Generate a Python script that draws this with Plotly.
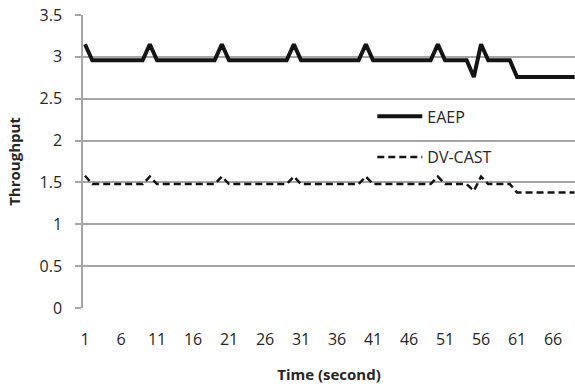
import plotly.graph_objects as go

time_s = list(range(1, 70))

eaep = [3.15, 2.96, 2.96, 2.96, 2.96, 2.96, 2.96, 2.96, 2.96, 3.15,
        2.96, 2.96, 2.96, 2.96, 2.96, 2.96, 2.96, 2.96, 2.96, 3.15,
        2.96, 2.96, 2.96, 2.96, 2.96, 2.96, 2.96, 2.96, 2.96, 3.15,
        2.96, 2.96, 2.96, 2.96, 2.96, 2.96, 2.96, 2.96, 2.96, 3.15,
        2.96, 2.96, 2.96, 2.96, 2.96, 2.96, 2.96, 2.96, 2.96, 3.15,
        2.96, 2.96, 2.96, 2.96, 2.76, 3.15, 2.96, 2.96, 2.96, 2.96,
        2.76, 2.76, 2.76, 2.76, 2.76, 2.76, 2.76, 2.76, 2.76]

dvcast = [1.58, 1.48, 1.48, 1.48, 1.48, 1.48, 1.48, 1.48, 1.48, 1.57,
          1.48, 1.48, 1.48, 1.48, 1.48, 1.48, 1.48, 1.48, 1.48, 1.57,
          1.48, 1.48, 1.48, 1.48, 1.48, 1.48, 1.48, 1.48, 1.48, 1.57,
          1.48, 1.48, 1.48, 1.48, 1.48, 1.48, 1.48, 1.48, 1.48, 1.57,
          1.48, 1.48, 1.48, 1.48, 1.48, 1.48, 1.48, 1.48, 1.48, 1.57,
          1.48, 1.48, 1.48, 1.48, 1.40, 1.57, 1.48, 1.48, 1.48, 1.48,
          1.38, 1.38, 1.38, 1.38, 1.38, 1.38, 1.38, 1.38, 1.38]

x_ticks = [1, 6, 11, 16, 21, 26, 31, 36, 41, 46, 51, 56, 61, 66]
x_tick_labels = [str(v) for v in x_ticks]

FONT = "Open Sans"
GRID = "#a6a6a6"
TXT = "#262626"

fig = go.Figure()
fig.add_trace(go.Scatter(x=time_s, y=eaep, mode="lines", name="EAEP",
                         legendgroup="a",
                         line=dict(color="#141414", width=4)))
fig.add_trace(go.Scatter(x=time_s, y=dvcast, mode="lines", name="DV-CAST",
                         legendgroup="b",
                         line=dict(color="#141414", width=2.5, dash="7px,4px")))

fig.update_layout(
    width=575, height=384,
    margin=dict(l=83, r=0, t=15, b=76),
    paper_bgcolor="white", plot_bgcolor="white",
    font=dict(family=FONT, size=16, color=TXT),
    showlegend=True,
    legend=dict(x=0.588, y=0.712, xanchor="left", yanchor="top",
                bgcolor="rgba(0,0,0,0)", tracegroupgap=17, itemwidth=45,
                font=dict(family=FONT, size=16, color=TXT)),
    xaxis=dict(range=[0.72, 69.05], tickvals=x_ticks, ticktext=x_tick_labels,
               showgrid=False, zeroline=False, showline=False, ticks="",
               ticklabelstandoff=20, automargin=False,
               title=dict(text="<b>Time (second)</b>", standoff=20,
                          font=dict(family=FONT, size=15, color=TXT))),
    yaxis=dict(range=[0, 3.5], dtick=0.5, tick0=0, showgrid=True,
               gridcolor=GRID, gridwidth=1.5, zeroline=False,
               showline=True, linecolor=GRID, linewidth=1.5,
               ticks="outside", ticklen=6, tickcolor=GRID, tickwidth=1.5,
               ticklabelstandoff=10, automargin=False,
               title=dict(text="<b>Throughput</b>", standoff=15,
                          font=dict(family=FONT, size=15, color=TXT))),
)

fig.write_html("out.html", config={"displayModeBar": False},
               post_script="document.body.style.margin='0';document.body.style.overflow='hidden';")
